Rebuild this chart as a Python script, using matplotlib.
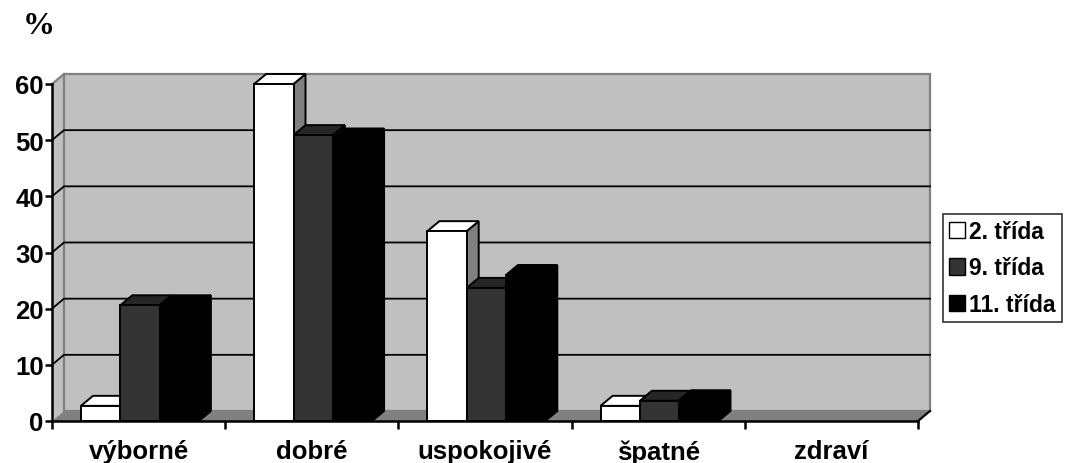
import numpy as np
import matplotlib
matplotlib.use("Agg")
import matplotlib.pyplot as plt
from matplotlib.patches import Polygon, Patch

plt.rcParams['font.family'] = ['Liberation Sans', 'DejaVu Sans']

categories = ["výborné", "dobré", "uspokojivé", "špatné", "zdraví"]
series_names = ["2. třída", "9. třída", "11. třída"]
trida_2 = [2.7, 60.0, 33.8, 2.7, 0.0]
trida_9 = [20.6, 50.9, 23.7, 3.6, 0.0]
trida_11 = [20.6, 50.3, 26.0, 3.7, 0.0]
y_ticks = [0, 10, 20, 30, 40, 50, 60]

front = ["#ffffff", "#333333", "#000000"]
top = ["#ffffff", "#262626", "#000000"]
side = ["#808080", "#1a1a1a", "#000000"]

W, H = 1076, 464
fig = plt.figure(figsize=(W / 100, H / 100), dpi=100)
ax = fig.add_axes([52 / W, 42 / H, 866 / W, 337 / H])
ymax = 60
ncat = len(categories)
ax.set_xlim(0, ncat)
ax.set_ylim(0, ymax)

# depth of the fake 3d box, in data units
dx = 12 / (866 / ncat)
dy = 10 / (337 / ymax)

wall = "#c0c0c0"
edge_gray = "#808080"
# left side wall, back wall, floor
ax.add_patch(Polygon([(0, 0), (dx, dy), (dx, ymax + dy), (0, ymax)],
                     closed=True, fc=wall, ec="none", clip_on=False, zorder=0))
ax.add_patch(Polygon([(dx, dy), (ncat + dx, dy), (ncat + dx, ymax + dy), (dx, ymax + dy)],
                     closed=True, fc=wall, ec=edge_gray, lw=1.6, clip_on=False, zorder=0))
ax.plot([0, dx], [ymax, ymax + dy], color=edge_gray, lw=1.6, clip_on=False, zorder=1)
ax.add_patch(Polygon([(0, 0), (ncat, 0), (ncat + dx, dy), (dx, dy)],
                     closed=True, fc=edge_gray, ec="none", clip_on=False, zorder=1))

# gridlines on the wall
for v in y_ticks[1:-1]:
    ax.plot([0, dx, ncat + dx], [v, v + dy, v + dy], color="black", lw=1.3,
            clip_on=False, zorder=1, solid_joinstyle="miter")
ax.plot([ncat, ncat + dx], [0, dy], color="black", lw=1.6, clip_on=False, zorder=5)

# bars
bw = 39.3 / (866 / ncat)
off = 29 / (866 / ncat)
data = [trida_2, trida_9, trida_11]
z = 2
for i in range(ncat):
    for j, vals in enumerate(data):
        v = vals[i]
        if v <= 0:
            continue
        x0 = i + off + j * bw
        x1 = x0 + bw
        kw = dict(closed=True, ec="black", lw=1.4, clip_on=False, zorder=z, joinstyle="miter")
        ax.add_patch(Polygon([(x1, 0), (x1 + dx, dy), (x1 + dx, v + dy), (x1, v)], fc=side[j], **kw))
        ax.add_patch(Polygon([(x0, v), (x1, v), (x1 + dx, v + dy), (x0 + dx, v + dy)], fc=top[j], **kw))
        ax.add_patch(Polygon([(x0, 0), (x1, 0), (x1, v), (x0, v)], fc=front[j], **kw))
        z += 1

for s in ["top", "right"]:
    ax.spines[s].set_visible(False)
for s in ["left", "bottom"]:
    ax.spines[s].set_linewidth(1.8)
    ax.spines[s].set_zorder(50)
ax.set_facecolor("none")

ax.set_yticks(y_ticks)
ax.set_yticklabels([str(t) for t in y_ticks], fontsize=18.5, fontweight="bold")
ax.tick_params(axis="y", length=5, width=1.8, pad=1)
ax.set_xticks(np.arange(ncat) + 0.5)
ax.set_xticklabels(categories, fontsize=18.5, fontweight="bold")
ax.set_xticks(np.arange(ncat + 1), minor=True)
ax.tick_params(axis="x", which="major", length=0, pad=13)
ax.tick_params(axis="x", which="minor", length=6, width=1.8)

fig.text(23 / W, 1 - 12 / H, "%", family="Liberation Serif", fontweight="bold",
         fontsize=23, va="top", ha="left")

handles = [Patch(fc=front[k], ec="black", lw=1.0) for k in range(3)]
leg = fig.legend(handles, series_names, loc="center left",
                 bbox_to_anchor=(943 / W, 1 - 269 / H), frameon=True, fancybox=False,
                 edgecolor="black", handlelength=0.7, handleheight=0.7, handletextpad=0.2,
                 labelspacing=0.6, borderpad=0.25, borderaxespad=0,
                 prop=dict(family="Liberation Sans", weight="bold", size=16.5))
leg.get_frame().set_linewidth(1.2)

fig.savefig("out.png", dpi=100)
